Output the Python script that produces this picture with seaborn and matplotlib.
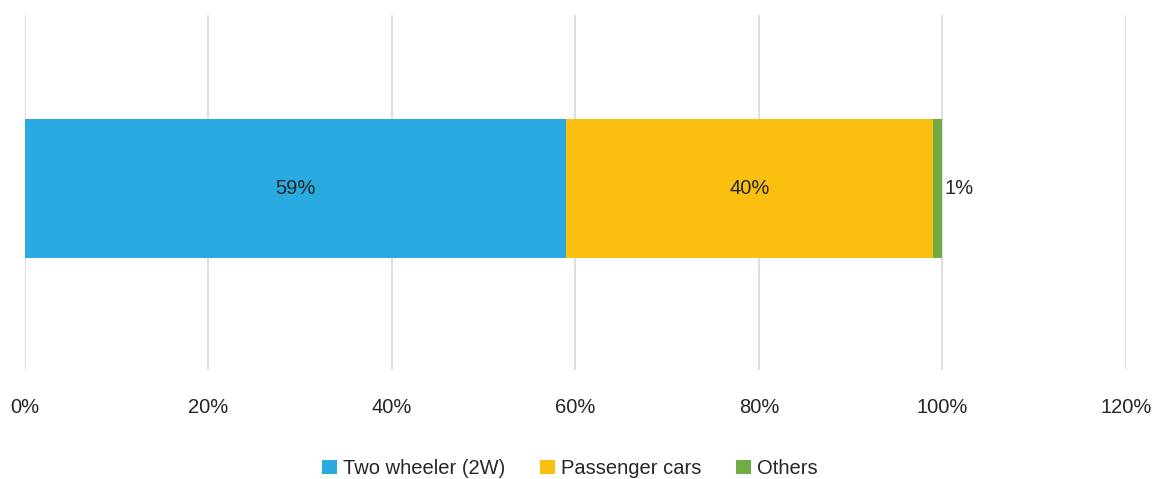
import matplotlib
matplotlib.use("Agg")
import matplotlib.pyplot as plt
import seaborn as sns
import pandas as pd
import numpy as np
from matplotlib.patches import Patch

categories = ["Two wheeler (2W)", "Passenger cars", "Others"]
shares = [59, 40, 1]
colors = ["#29ABE2", "#FBBF10", "#70AD47"]
x_ticks = [0, 20, 40, 60, 80, 100, 120]

sns.set_theme(style="white")
plt.rcParams["font.family"] = ["Liberation Sans", "DejaVu Sans"]

FS = 14.5
fig = plt.figure(figsize=(11.56, 4.79), dpi=100)
ax = fig.add_axes([0.0216, 0.228, 0.9524, 0.741])

cum = np.cumsum(shares)
row = "All"
# Stacked bar: draw cumulative totals from the largest down so each segment shows
for i in range(len(shares) - 1, -1, -1):
    df = pd.DataFrame({"row": [row], "value": [cum[i]]})
    sns.barplot(data=df, x="value", y="row", color=colors[i], width=0.5,
                saturation=1, linewidth=0, ax=ax, zorder=2)

starts = np.concatenate([[0], cum[:-1]])
for i, (s, v) in enumerate(zip(starts, shares)):
    label = f"{v}%"
    if v >= 5:
        ax.text(s + v / 2, 0, label, ha="center", va="center",
                fontsize=FS, color="#262626")
    else:
        ax.text(s + v + 0.2, 0, label, ha="left", va="center",
                fontsize=FS, color="#262626")

ax.set_xlim(0, 120)
ax.set_ylim(0.653, -0.624)
ax.set_xticks(x_ticks)
ax.set_xticklabels([f"{t}%" for t in x_ticks], fontsize=FS, color="#262626")
ax.tick_params(axis="x", length=0, pad=20)
ax.set_yticks([])
ax.set_xlabel("")
ax.set_ylabel("")
ax.grid(axis="x", color="#D9D9D9", linewidth=1.2, zorder=0)
ax.set_axisbelow(True)
for sp in ax.spines.values():
    sp.set_visible(False)

handles = [Patch(facecolor=c, edgecolor="none") for c in colors]
fig.legend(handles, categories, loc="center", bbox_to_anchor=(0.493, 0.022),
           ncol=3, frameon=False, fontsize=FS, handlelength=0.75,
           handleheight=0.75, handletextpad=0.3, columnspacing=1.7,
           labelcolor="#262626")

fig.savefig("out.png", dpi=100)
